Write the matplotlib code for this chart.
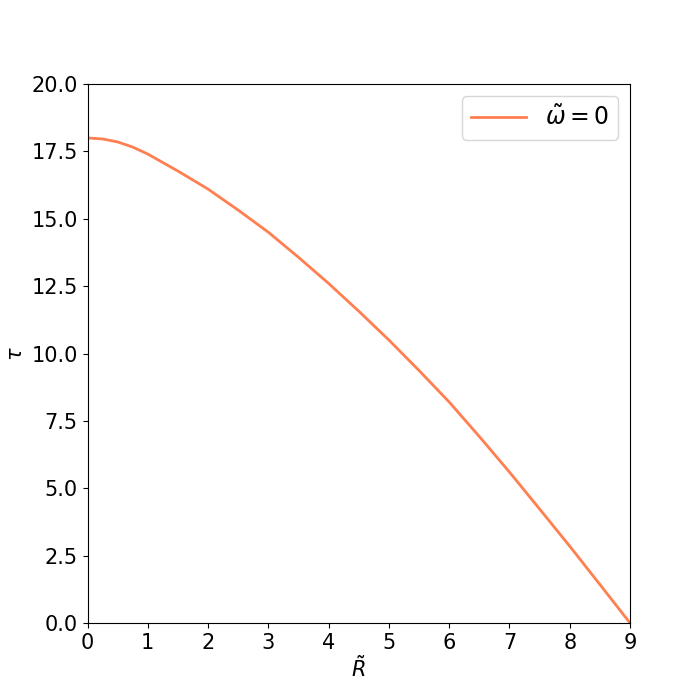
import numpy as np
import matplotlib
matplotlib.use("Agg")
import matplotlib.pyplot as plt

# values
R = [0, 0.25, 0.5, 0.75, 1, 1.5, 2, 2.5, 3, 3.5, 4, 4.5, 5, 5.5, 6, 6.5,
     7, 7.5, 8, 8.5, 9]
tau = [18.0, 17.96, 17.85, 17.66, 17.4, 16.77, 16.1, 15.32, 14.5, 13.57,
       12.6, 11.57, 10.5, 9.37, 8.2, 6.92, 5.6, 4.23, 2.85, 1.43, 0.0]

plt.rcParams['font.size'] = 15
fig, ax = plt.subplots(figsize=(7, 7), dpi=100)
ax.plot(R, tau, color='coral', lw=2, label=r'$\tilde{\omega}=0$')
ax.set_xlim(0, 9)
ax.set_ylim(0, 20)
ax.set_xticks(range(0, 10))
ax.set_xlabel(r'$\tilde{R}$', labelpad=2)
ax.set_ylabel(r'$\tau$')
ax.legend(fontsize=17, handlelength=2.3)
fig.savefig('out.png')
